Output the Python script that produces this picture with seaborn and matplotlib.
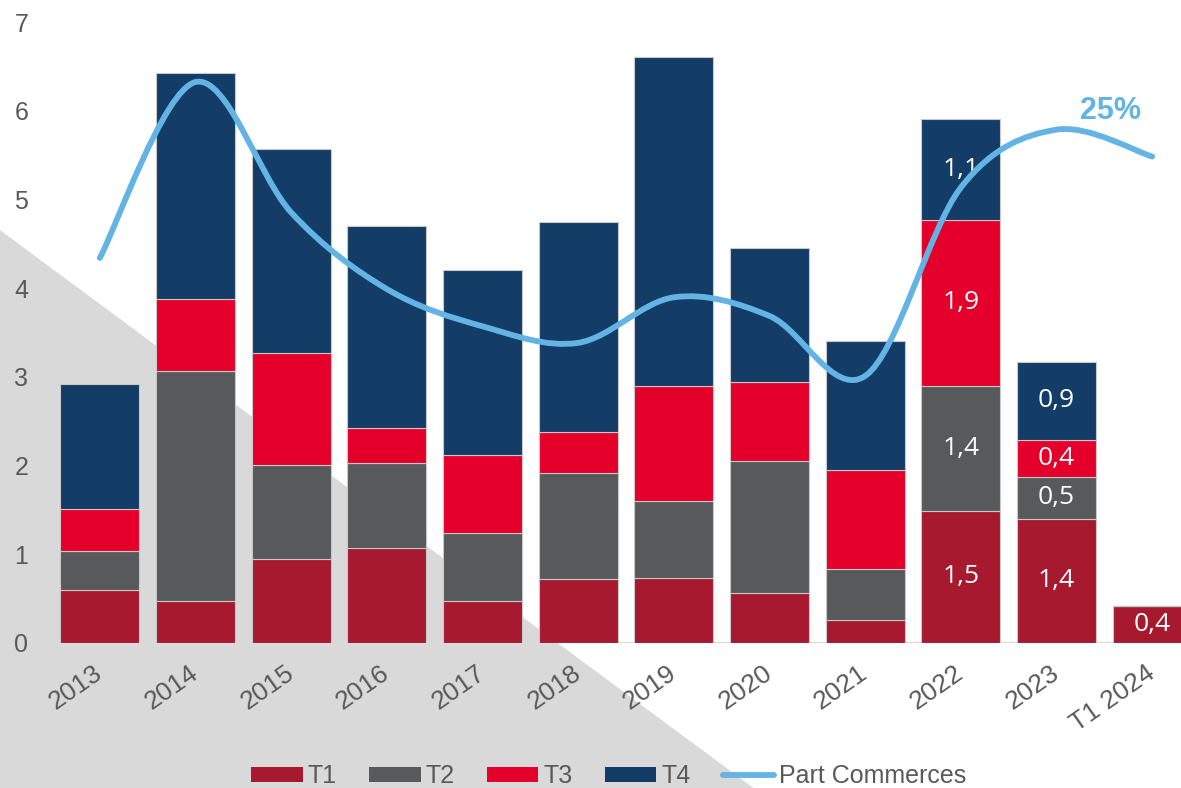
import numpy as np
import pandas as pd
import matplotlib.pyplot as plt
from matplotlib.path import Path
from matplotlib.patches import PathPatch, Polygon, Patch
from matplotlib.lines import Line2D
import seaborn as sns

periods = ['2013', '2014', '2015', '2016', '2017', '2018', '2019',
           '2020', '2021', '2022', '2023', 'T1 2024']
t1 = [0.60, 0.47, 0.95, 1.07, 0.47, 0.72, 0.73, 0.56, 0.26, 1.49, 1.40, 0.42]
t2 = [0.44, 2.60, 1.06, 0.96, 0.77, 1.20, 0.87, 1.49, 0.57, 1.41, 0.47, 0.0]
t3 = [0.47, 0.81, 1.26, 0.39, 0.88, 0.46, 1.30, 0.89, 1.12, 1.87, 0.42, 0.0]
t4 = [1.41, 2.55, 2.30, 2.28, 2.09, 2.36, 3.70, 1.51, 1.45, 1.14, 0.88, 0.0]
part_commerces = [0.186, 0.271, 0.208, 0.171, 0.153, 0.145, 0.167,
                  0.158, 0.129, 0.220, 0.248, 0.235]
labelled = ['2022', '2023', 'T1 2024']

quarters = ['T1', 'T2', 'T3', 'T4']
colors = {'T1': '#A6192E', 'T2': '#58595B', 'T3': '#E4002B', 'T4': '#133C66'}
line_col = '#63B4E4'
txt_col = '#595959'

df = pd.DataFrame({'period': periods, 'T1': t1, 'T2': t2, 'T3': t3, 'T4': t4})

plt.rcParams['font.family'] = ['Liberation Sans', 'DejaVu Sans']

fig = plt.figure(figsize=(11.81, 7.88), dpi=100)
fig.patch.set_facecolor('white')

# grey triangle in the background, on its own axes behind everything
bg = fig.add_axes([0, 0, 1, 1], zorder=-1)
bg.set_xlim(0, 1)
bg.set_ylim(0, 1)
bg.axis('off')
bg.add_patch(Polygon([(0, 0.708), (0.638, 0), (0, 0)], closed=True,
                     facecolor='#D9D9D9', edgecolor='none'))

ax = fig.add_axes([52 / 1181, 145 / 788, 1148 / 1181, 621 / 788], zorder=1)
ax.patch.set_visible(False)

bottom = np.zeros(len(df))
for q in quarters:
    sns.barplot(data=df, x='period', y=q, order=periods, color=colors[q],
                saturation=1, width=0.825, bottom=bottom, errorbar=None,
                edgecolor='#C8C8C8', linewidth=0.8, ax=ax)
    for i, p in enumerate(periods):
        v = df[q].iloc[i]
        if p in labelled and v > 0:
            ax.text(i, bottom[i] + v / 2, f'{v:.1f}'.replace('.', ','),
                    ha='center', va='center', color='white', fontsize=19,
                    family='Open Sans', zorder=5)
    bottom = bottom + df[q].values

ax.set_xlim(-0.5, 11.5)
ax.set_ylim(0, 7)
ax.set_yticks(range(0, 8))
ax.set_xlabel('')
ax.set_ylabel('')
for s in ax.spines.values():
    s.set_visible(False)
ax.axhline(0, color='#D9D9D9', lw=1.5, zorder=0.5)
ax.tick_params(axis='both', length=0, colors=txt_col, labelsize=18)
ax.tick_params(axis='x', labelsize=19, pad=20)
ax.tick_params(axis='y', pad=17)
for lab in ax.get_xticklabels():
    lab.set_rotation(35)
    lab.set_ha('right')
    lab.set_va('center')
    lab.set_rotation_mode('anchor')

# share of retail on a hidden secondary axis, smoothed like the original
ax2 = ax.twinx()
ax2.set_zorder(2)
ax2.patch.set_visible(False)
ax2.set_ylim(0, 0.3)
ax2.axis('off')
xs = np.arange(len(periods), dtype=float)
ys = np.array(part_commerces)
pts = np.column_stack([xs, ys])
ext = np.vstack([pts[0], pts, pts[-1]])
verts = [pts[0]]
codes = [Path.MOVETO]
for i in range(len(pts) - 1):
    p0, p1, p2, p3 = ext[i], ext[i + 1], ext[i + 2], ext[i + 3]
    verts += [p1 + (p2 - p0) / 6, p2 - (p3 - p1) / 6, p2]
    codes += [Path.CURVE4] * 3
ax2.add_patch(PathPatch(Path(verts, codes), facecolor='none',
                        edgecolor=line_col, lw=4.2, capstyle='round'))
ax2.text(10.56, 0.257, '25%', color=line_col, fontsize=22,
         fontweight='bold', ha='center', va='center')

handles = [Patch(facecolor=colors[q], edgecolor='none', label=q) for q in quarters]
handles.append(Line2D([0], [0], color=line_col, lw=4.2, label='Part Commerces',
                      solid_capstyle='round'))
leg = fig.legend(handles=handles, loc='center', bbox_to_anchor=(609 / 1181, 1 - 776 / 788),
                 ncol=5, frameon=False, fontsize=18, handlelength=2.05,
                 handleheight=0.55, handletextpad=0.2, columnspacing=1.3)
for t in leg.get_texts():
    t.set_color(txt_col)

fig.savefig('out.png', dpi=100)
